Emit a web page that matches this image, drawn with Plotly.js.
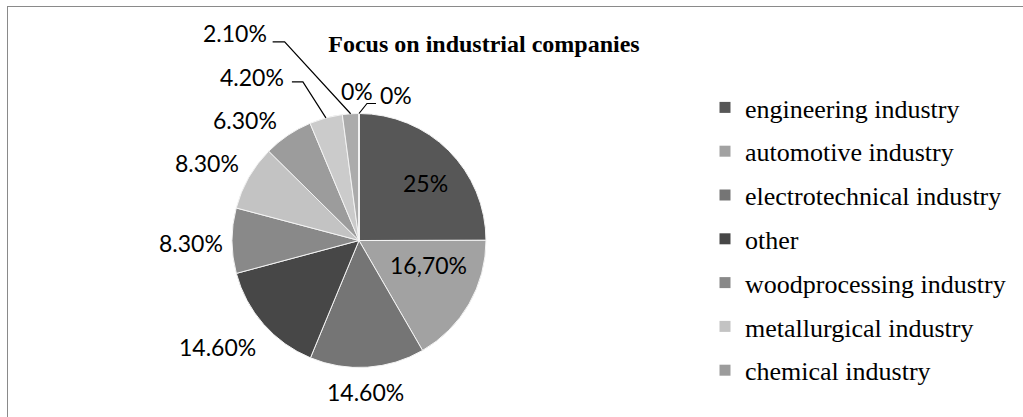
<!DOCTYPE html>
<html>
<head>
<meta charset="utf-8">
<script src="https://cdn.plot.ly/plotly-3.0.1.min.js"></script>
<style>
  html, body { margin: 0; padding: 0; background: #fff; }
  #wrap { position: relative; width: 1023px; height: 417px; overflow: hidden; }
  #chart { position: absolute; left: 0; top: 0; width: 1023px; height: 417px; }
  #frame { position: absolute; left: 7px; top: 6px; width: 1100px; height: 500px;
           border-left: 1.5px solid #8a8a8a; border-top: 1.5px solid #8a8a8a; pointer-events: none; }
</style>
</head>
<body>
<div id="wrap"><div id="chart"></div><div id="frame"></div></div>
<script>
// ---- data ----
const sliceLabels = ["engineering industry", "automotive industry", "electrotechnical industry",
  "other", "woodprocessing industry", "metallurgical industry", "chemical industry",
  "slice 8", "slice 9", "slice 10", "slice 11"];
const sliceValues = [25, 16.7, 14.6, 14.6, 8.3, 8.3, 6.3, 4.2, 2.1, 0, 0];
const sliceText = ["25%", "16,70%", "14.60%", "14.60%", "8.30%", "8.30%", "6.30%", "4.20%", "2.10%", "0%", "0%"];
const legendCount = 7;
const chartTitle = "Focus on industrial companies";

// ---- style / placement ----
const sliceColors = ["#575757", "#a2a2a2", "#757575", "#474747", "#898989", "#c3c3c3", "#9c9c9c",
  "#cbcbcb", "#ababab", "#707070", "#505050"];
const W = 1023, H = 417;
const PIE = { cx: 359, cy: 240.5, r: 127 };           // pie geometry in pixels
const labelRadius = [0.65, 0.65, 1, 1, 1, 1, 1, 1, 1, 1, 1];  // fraction of radius for label anchor
const labelShift = [[8, 1], [-2, -17], [-2, 25], [-46, 23], [-41, 2], [-42, -14], [-43, -15],
  [-74, -41], [-116, -81], [-2, -22], [37, -19]];        // pixel shift of label centre from anchor
const leader = { 7: [[51, 5], [40, 5]], 8: [[50, 9], [38, 9]], 10: [[-29, 9], [-20, 9]] }; // elbow, end (rel. to label)

const px2x = p => p / W, py2y = p => 1 - p / H;

// slice mid-angles (clockwise from 12 o'clock) from the data
const total = sliceValues.reduce((a, b) => a + b, 0);
let cum = 0;
const midAngles = sliceValues.map(v => { const a = (cum + v / 2) / total * 2 * Math.PI; cum += v; return a; });

const annotations = [], shapes = [];
sliceText.forEach((t, i) => {
  const a = midAngles[i];
  const ex = PIE.cx + PIE.r * Math.sin(a), ey = PIE.cy - PIE.r * Math.cos(a);
  const ax = PIE.cx + PIE.r * labelRadius[i] * Math.sin(a), ay = PIE.cy - PIE.r * labelRadius[i] * Math.cos(a);
  const lx = ax + labelShift[i][0], ly = ay + labelShift[i][1];
  annotations.push({
    xref: "paper", yref: "paper", x: px2x(lx), y: py2y(ly), xanchor: "center", yanchor: "middle",
    text: t, showarrow: false,
    font: { family: "Lato, 'Open Sans', sans-serif", size: 23, color: "#000" }
  });
  if (leader[i]) {
    const [el, en] = leader[i];
    const path = `M ${px2x(ex)} ${py2y(ey)} L ${px2x(lx + el[0])} ${py2y(ly + el[1])} L ${px2x(lx + en[0])} ${py2y(ly + en[1])}`;
    shapes.push({ type: "path", xref: "paper", yref: "paper", path: path, line: { color: "#000", width: 1.2 } });
  }
});

const traces = [{
  type: "pie",
  labels: sliceLabels,
  values: sliceValues,
  textinfo: "none",
  sort: false,
  direction: "clockwise",
  rotation: 0,
  showlegend: false,
  marker: { colors: sliceColors, line: { color: "#f4f4f4", width: 1 } },
  domain: { x: [px2x(PIE.cx - PIE.r), px2x(PIE.cx + PIE.r)], y: [py2y(PIE.cy + PIE.r), py2y(PIE.cy - PIE.r)] },
  hoverinfo: "none"
}];

for (let i = 0; i < legendCount; i++) {
  traces.push({
    type: "scatter", mode: "markers", x: [null], y: [null],
    name: sliceLabels[i], legendgroup: "g" + i, showlegend: true,
    marker: { symbol: "square", size: 11, color: sliceColors[i] },
    hoverinfo: "none"
  });
}

const layout = {
  width: W, height: H,
  margin: { l: 0, r: 0, t: 0, b: 0 },
  paper_bgcolor: "#fff", plot_bgcolor: "#fff",
  title: { text: "<b>" + chartTitle + "</b>", x: px2x(484), xanchor: "center", y: py2y(44), yanchor: "middle",
           font: { family: "'Liberation Serif', 'Times New Roman', serif", size: 24, color: "#000" } },
  xaxis: { visible: false }, yaxis: { visible: false },
  showlegend: true,
  legend: { x: px2x(705), xanchor: "left", y: py2y(84), yanchor: "top",
            traceorder: "grouped", tracegroupgap: 7, itemwidth: 30,
            font: { family: "'Liberation Serif', 'Times New Roman', serif", size: 26, color: "#000" },
            bgcolor: "rgba(0,0,0,0)" },
  annotations: annotations,
  shapes: shapes
};

Plotly.newPlot("chart", traces, layout, { displayModeBar: false, staticPlot: true });
</script>
</body>
</html>
